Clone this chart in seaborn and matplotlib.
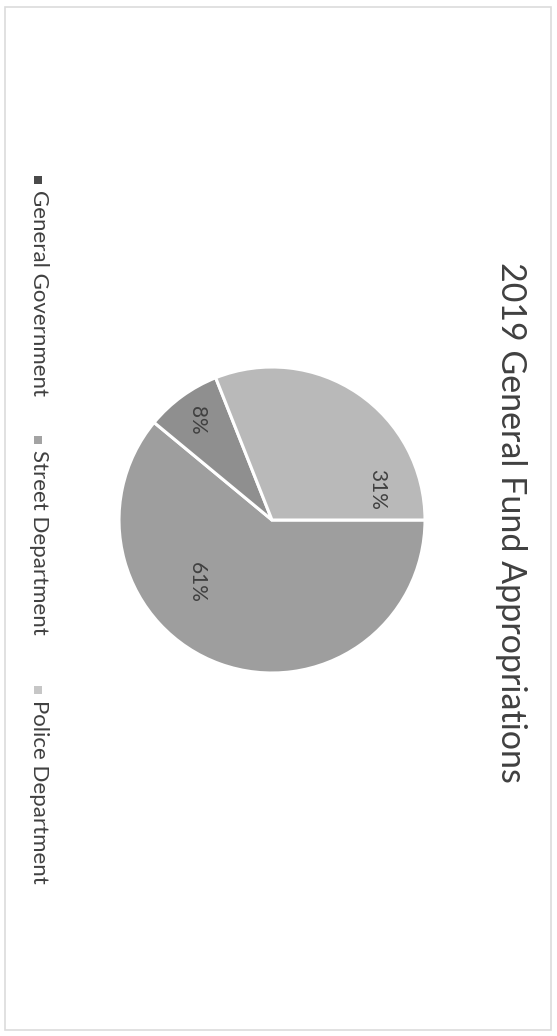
import matplotlib
matplotlib.use("Agg")
import matplotlib.pyplot as plt
import seaborn as sns
from matplotlib.patches import Rectangle

# data
categories = ["General Government", "Street Department", "Police Department"]
shares = [61, 8, 31]
slice_colors = ["#9e9e9e", "#8f8f8f", "#b9b9b9"]
legend_colors = ["#4a4a4a", "#a3a3a3", "#c6c6c6"]
title = "2019 General Fund Appropriations"

sns.set_theme(style="white")
plt.rcParams['font.family'] = ['Lato', 'DejaVu Sans']
text_color = "#404040"

W, H = 557, 1036
fig = plt.figure(figsize=(W / 100, H / 100), dpi=100)
fig.patch.set_facecolor("white")

# chart border
fig.patches.append(Rectangle((5 / W, 6 / H), 546 / W, 1023 / H,
                             transform=fig.transFigure, fill=False,
                             edgecolor="#dcdcdc", linewidth=1.2))

# pie (whole chart is rotated 90 degrees clockwise)
cx, cy, r = 272, 520, 153
ax = fig.add_axes([(cx - r) / W, (H - cy - r) / H, 2 * r / W, 2 * r / H])
wedges, _ = ax.pie(shares, colors=slice_colors, startangle=0, counterclock=False,
                   radius=1, wedgeprops=dict(edgecolor="white", linewidth=2.2))
ax.set_xlim(-1, 1)
ax.set_ylim(-1, 1)
ax.axis("off")

# percentage labels (placed like Excel's best fit)
label_pos = [(-0.49, -0.41), (-0.49, 0.65), (0.69, 0.20)]
for v, (lx, ly) in zip(shares, label_pos):
    ax.text(lx, ly, f"{v}%", rotation=-90, ha="center", va="center",
            fontsize=15, color=text_color)

# title
fig.text(511 / W, 1 - 522 / H, title, rotation=-90, ha="center", va="center",
         fontsize=24.5, color=text_color)

# legend, drawn rotated
marker_y = [180, 440, 690]
for name, col, yc in zip(categories, legend_colors, marker_y):
    fig.patches.append(Rectangle((34 / W, 1 - (yc + 4) / H), 8 / W, 8 / H,
                                 transform=fig.transFigure, facecolor=col,
                                 edgecolor="none"))
    fig.text(39 / W, 1 - (yc + 10) / H, name, rotation=-90, ha="center", va="top",
             fontsize=16, color=text_color)

fig.savefig("out.png", dpi=100, facecolor="white")
